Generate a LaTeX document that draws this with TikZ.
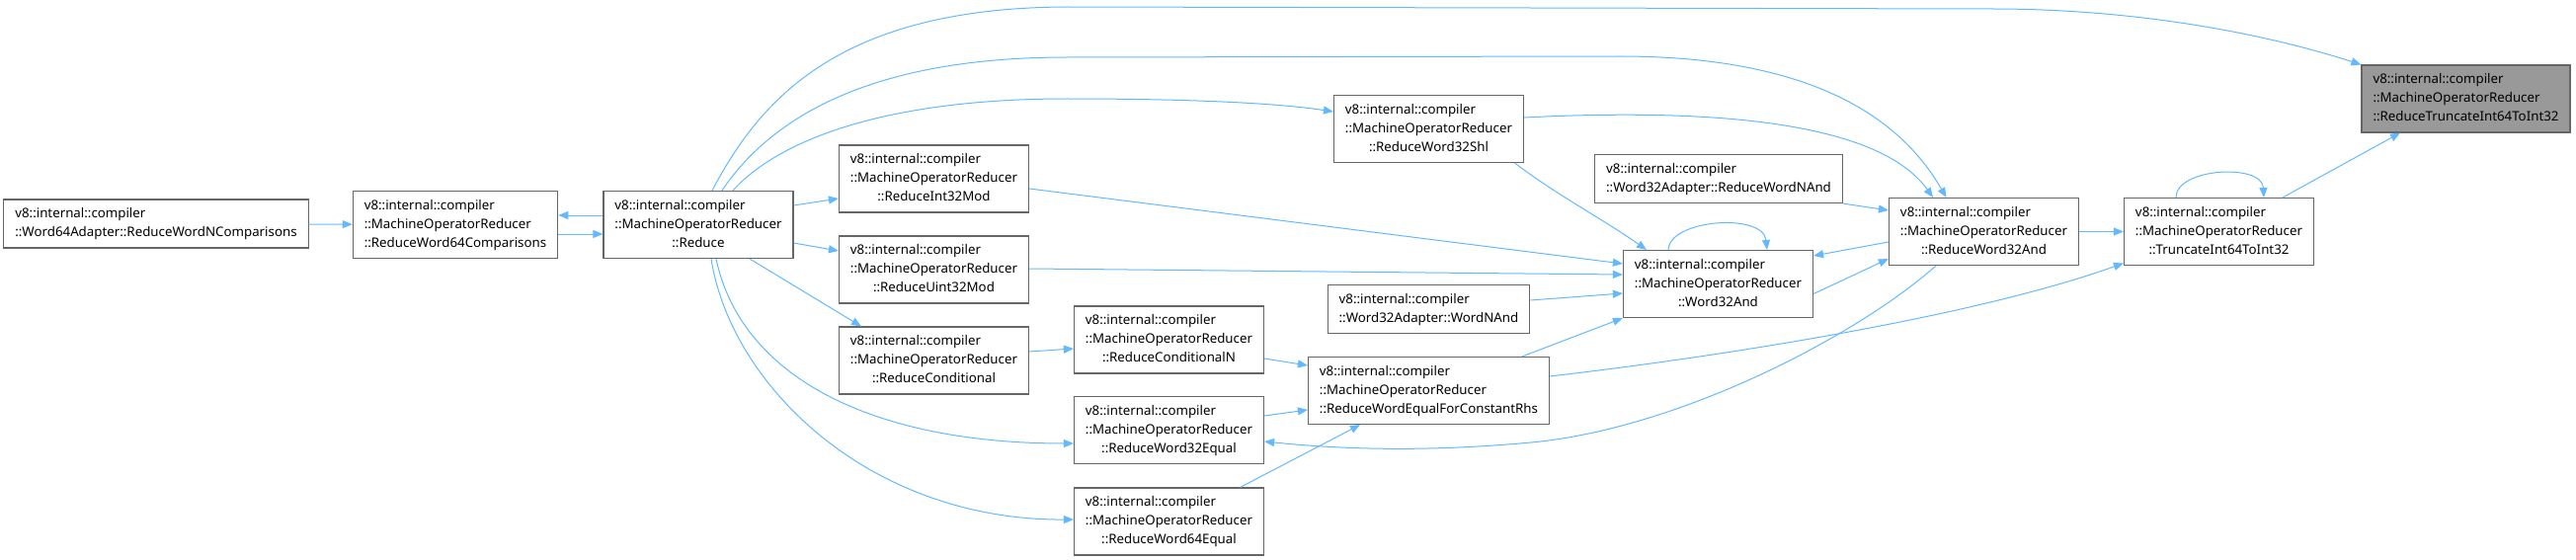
\documentclass[tikz,border=0pt]{standalone}
\usepackage{fontspec}
\newfontfamily\dxfont{Noto Sans}
\usetikzlibrary{arrows.meta}
\definecolor{edgeblue}{HTML}{63B8FF}
\definecolor{boxgray}{HTML}{666666}
\definecolor{hlgray}{HTML}{999999}
% three line and two line labels, last line centred
\newcommand{\fnlbl}[3]{\begin{tabular}{@{}l@{}}#1\\#2\\\multicolumn{1}{@{}c@{}}{#3}\end{tabular}}
\newcommand{\fnlblb}[2]{\begin{tabular}{@{}l@{}}#1\\#2\end{tabular}}
\newcommand{\vic}{v8::internal::compiler}
\newcommand{\mor}{::MachineOperatorReducer}
\begin{document}
\begin{tikzpicture}[x=1pt,y=-1pt,
    fnbox/.style={draw=boxgray, line width=1.1pt, fill=white, inner xsep=11.5pt,
      inner ysep=5.5pt, font=\dxfont\fontsize{13.3}{19}\selectfont},
    hlbox/.style={fnbox, fill=hlgray},
    calledge/.style={draw=edgeblue, line width=1pt, -{Triangle[length=10pt,width=8pt]}}]
    \useasboundingbox (0,0) rectangle (2608,567);
    % nodes
    \node[fnbox] (w64nc) at (158,226.5) {\fnlblb{\vic}{::Word64Adapter::ReduceWordNComparisons}};
    \node[fnbox] (rw64cmp) at (461,227.5) {\fnlbl{\vic}{\mor}{::ReduceWord64Comparisons}};
    \node[fnbox] (reduce) at (707,227.5) {\fnlbl{\vic}{\mor}{::Reduce}};
    \node[fnbox] (rint32mod) at (945.5,181) {\fnlbl{\vic}{\mor}{::ReduceInt32Mod}};
    \node[fnbox] (ruint32mod) at (945.5,273) {\fnlbl{\vic}{\mor}{::ReduceUint32Mod}};
    \node[fnbox] (rcond) at (945.5,365) {\fnlbl{\vic}{\mor}{::ReduceConditional}};
    \node[fnbox] (rcondn) at (1183.5,344) {\fnlbl{\vic}{\mor}{::ReduceConditionalN}};
    \node[fnbox] (rw32eq) at (1183.5,435.5) {\fnlbl{\vic}{\mor}{::ReduceWord32Equal}};
    \node[fnbox] (rw64eq) at (1183.5,528) {\fnlbl{\vic}{\mor}{::ReduceWord64Equal}};
    \node[fnbox] (rweqcrhs) at (1446.5,395.5) {\fnlbl{\vic}{\mor}{::ReduceWordEqualForConstantRhs}};
    \node[fnbox] (w32nand) at (1446.5,313) {\fnlblb{\vic}{::Word32Adapter::WordNAnd}};
    \node[fnbox] (rw32shl) at (1446.5,130.5) {\fnlbl{\vic}{\mor}{::ReduceWord32Shl}};
    \node[fnbox] (w32and) at (1739.5,287.5) {\fnlbl{\vic}{\mor}{::Word32And}};
    \node[fnbox] (rwnand) at (1740,181) {\fnlblb{\vic}{::Word32Adapter::ReduceWordNAnd}};
    \node[fnbox] (rw32and) at (2008.5,234.5) {\fnlbl{\vic}{\mor}{::ReduceWord32And}};
    \node[fnbox] (trunc) at (2246.5,234.5) {\fnlbl{\vic}{\mor}{::TruncateInt64ToInt32}};
    \node[hlbox] (target) at (2496.5,100) {\fnlbl{\vic}{\mor}{::ReduceTruncateInt64ToInt32}};
    % left part
    \draw[calledge] (w64nc) -- (rw64cmp);
    \draw[calledge] ([yshift=9.5pt]reduce.west) -- ([yshift=9.5pt]rw64cmp.east);
    \draw[calledge] ([yshift=-9.5pt]rw64cmp.east) -- ([yshift=-9.5pt]reduce.west);
    \draw[calledge] ([yshift=19.5pt]reduce.east) -- ([yshift=-20pt]rint32mod.west);
    \draw[calledge] ([yshift=-18.5pt]reduce.east) -- ([yshift=19pt]ruint32mod.west);
    \draw[calledge] ([xshift=52pt]reduce.south) -- ([xshift=-73.5pt]rcond.north);
    \draw[calledge] ([xshift=18pt]reduce.south) .. controls (750,380) and (880,449)
        .. ([yshift=-13.5pt]rw32eq.west);
    \draw[calledge] ([xshift=13pt]reduce.south) .. controls (740,390) and (880,527)
        .. ([yshift=2pt]rw64eq.west);
    % long curves over the top
    \draw[calledge] ([xshift=14pt]reduce.north) .. controls (770,100) and (850,8) .. (1080,7)
        -- (2017,9) .. controls (2150,9) and (2280,30) .. (target.north west);
    \draw[calledge] ([xshift=24pt]reduce.north) .. controls (780,120) and (880,58) .. (1080,58)
        -- (1640,57) .. controls (1850,57) and (1930,130) .. ([xshift=-38pt]rw32and.north);
    \draw[calledge] ([xshift=35pt]reduce.north) .. controls (790,140) and (900,100) .. (1080,100)
        .. controls (1200,100) and (1290,104) .. ([yshift=17.5pt]rw32shl.west);
    \draw[calledge] ([yshift=11.5pt]rw32shl.east) .. controls (1720,110) and (1900,120)
        .. ([xshift=-51.5pt]rw32and.north);
    \draw[calledge] ([xshift=87pt]rw32shl.south) .. controls (1580,200) and (1620,220)
        .. ([xshift=-72.5pt]w32and.north);
    % middle part
    \draw[calledge] ([yshift=9pt]rcond.east) -- ([yshift=-9pt]rcondn.west);
    \draw[calledge] ([yshift=-19pt]rcondn.east) -- ([yshift=25.5pt]rweqcrhs.west);
    \draw[calledge] ([yshift=14.5pt]rw32eq.east) -- ([yshift=-19.5pt]rweqcrhs.west);
    \draw[calledge] ([xshift=72pt]rw64eq.north) -- ([xshift=-69.5pt]rweqcrhs.south);
    \draw[calledge] ([yshift=-10pt]rint32mod.east) -- ([yshift=20.5pt]w32and.west);
    \draw[calledge] ([yshift=1pt]ruint32mod.east) -- ([yshift=9.5pt]w32and.west);
    \draw[calledge] ([yshift=9pt]w32nand.east) -- ([yshift=-9.5pt]w32and.west);
    \draw[calledge] ([xshift=94.5pt]rweqcrhs.north) -- (w32and.south west);
    \draw[calledge] ([xshift=-50.5pt]w32and.north) .. controls (1690,222) and (1785,215)
        .. ([xshift=49.5pt]w32and.north);
    \draw[calledge] ([yshift=-10pt]w32and.east) -- ([yshift=-27.5pt]rw32and.west);
    \draw[calledge] ([yshift=-10.5pt]rw32and.west) -- ([yshift=28.5pt]w32and.east);
    \draw[calledge] (rwnand.south east) -- ([yshift=21.5pt]rw32and.west);
    \draw[calledge] ([xshift=-48.5pt]rw32and.south) .. controls (1880,340) and (1700,434) .. (1550,448)
        .. controls (1420,460) and (1330,452) .. ([yshift=-11.5pt]rw32eq.east);
    % right part
    \draw[calledge] (rw32and) -- (trunc);
    \draw[calledge] ([xshift=-43.5pt]trunc.north) .. controls (2203,170) and (2290,165)
        .. ([xshift=45.5pt]trunc.north);
    \draw[calledge] ([xshift=64.5pt]trunc.north) -- ([xshift=-66.5pt]target.south);
    \draw[calledge] ([yshift=14.5pt]rweqcrhs.east) .. controls (1750,360) and (2000,320)
        .. ([yshift=-32pt]trunc.west);
\end{tikzpicture}
\end{document}
